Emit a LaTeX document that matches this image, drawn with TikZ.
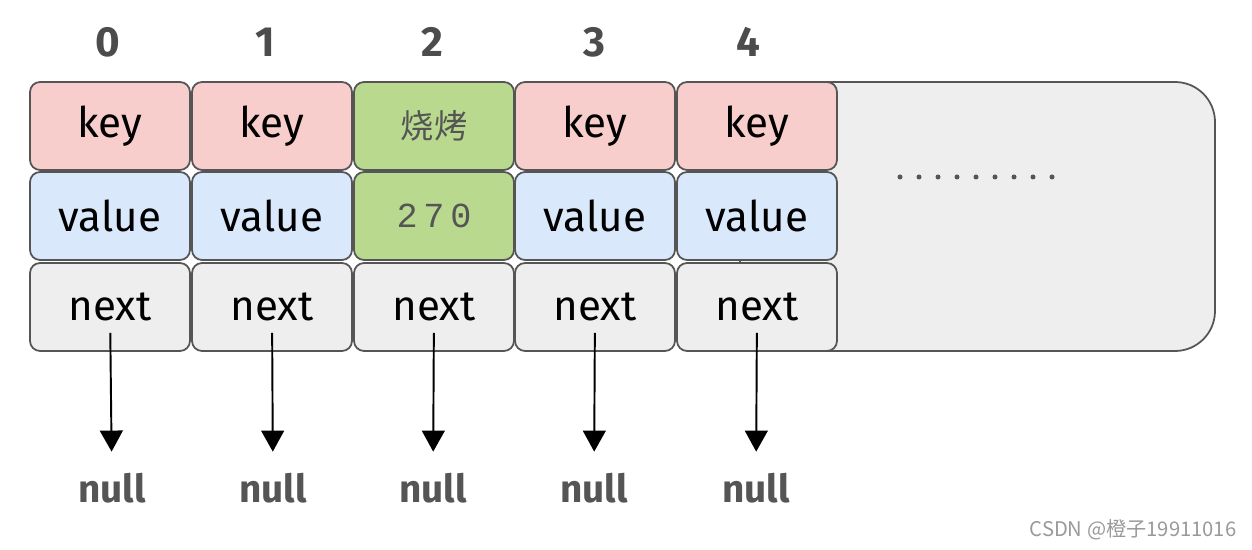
\documentclass[tikz,border=0pt]{standalone}
\usepackage{fontspec}
\setmainfont{Fira Sans}
\newfontfamily\cjkfont{Noto Sans CJK SC}
\newfontfamily\numfont{Liberation Mono}
\usetikzlibrary{arrows.meta}
\definecolor{keyred}{HTML}{F8CECC}
\definecolor{valblue}{HTML}{DAE8FC}
\definecolor{hitgreen}{HTML}{B9D98F}
\definecolor{nextgray}{HTML}{EEEEEE}
\definecolor{edgegray}{HTML}{555555}
\definecolor{markgray}{HTML}{999999}
\tikzset{
  cell/.style={draw=edgegray,line width=1pt,rounded corners=0.2cm,
    minimum width=3.2cm,minimum height=1.76cm,inner sep=0pt,
    font=\fontsize{24}{28}\selectfont},
  keycell/.style={cell,fill=keyred},
  valcell/.style={cell,fill=valblue},
  hitcell/.style={cell,fill=hitgreen,text=edgegray},
  nextcell/.style={cell,fill=nextgray},
  idx/.style={text=edgegray!90!black,font=\bfseries\fontsize{24}{28}\selectfont},
  nulltext/.style={inner sep=0pt,text=edgegray,font=\bfseries\fontsize{22}{26}\selectfont},
  nullarrow/.style={-{Triangle[length=12pt,width=13pt]},line width=1.1pt,
    shorten <=0.52cm,shorten >=0.42cm}
}
\begin{document}
\begin{tikzpicture}[x=0.02cm,y=-0.02cm]
\useasboundingbox (0,0) rectangle (1252,550);
% table frame (left part sits under the cells)
\draw[edgegray,fill=nextgray,line width=1pt,rounded corners=0.8cm] (740,82) rectangle (1215,351);
% index row
\node[idx] (i0) at (108,42) {0};
\node[idx] (i1) at (265,42) {1};
\node[idx] (i2) at (432,42) {2};
\node[idx] (i3) at (594,42) {3};
\node[idx] (i4) at (748,42) {4};
% key row
\node[keycell] (k0) at (110,126) {key};
\node[keycell] (k1) at (272,126) {key};
\node[hitcell] (k2) at (434,126) {\cjkfont\fontsize{19}{22}\selectfont 烧烤};
\node[keycell] (k3) at (595,126) {key};
\node[keycell] (k4) at (757,126) {key};
% value row
\node[valcell] (v0) at (110,216) {value};
\node[valcell] (v1) at (272,216) {value};
\node[hitcell] (v2) at (434,216) {\numfont\fontsize{20}{24}\selectfont 2\,7\,0};
\node[valcell] (v3) at (595,216) {value};
\node[valcell] (v4) at (757,216) {value};
% next row
\node[nextcell] (n0) at (110,307) {next};
\node[nextcell] (n1) at (272,307) {next};
\node[nextcell] (n2) at (434,307) {next};
\node[nextcell] (n3) at (595,307) {next};
\node[nextcell] (n4) at (757,307) {next};
% more slots
\foreach \i in {0,...,8}
  \fill[edgegray] (900+\i*19,177) circle (0.05cm);
% null ends
\node[nulltext] (z0) at (112,488) {null};
\node[nulltext] (z1) at (273,488) {null};
\node[nulltext] (z2) at (433,488) {null};
\node[nulltext] (z3) at (594,488) {null};
\node[nulltext] (z4) at (756,488) {null};
\draw[nullarrow] (n0.center) -- (z0);
\draw[nullarrow] (n1.center) -- (z1);
\draw[nullarrow] (n2.center) -- (z2);
\draw[nullarrow] (n3.center) -- (z3);
\draw[nullarrow] (n4.center) -- (z4);
\node[text=markgray,font=\cjkfont\fontsize{11.5}{13}\selectfont] (mark) at (1133,530) {CSDN @橙子19911016};
\end{tikzpicture}
\end{document}
